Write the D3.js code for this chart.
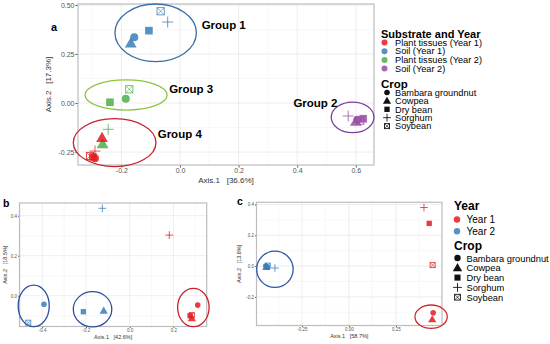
<!DOCTYPE html>
<html>
<head>
<meta charset="utf-8">
<script src="https://cdn.jsdelivr.net/npm/d3@7"></script>
<style>
  body { margin: 0; background: #fff; }
  text { font-family: "Liberation Sans", Arial, sans-serif; }
</style>
</head>
<body>
<div id="chart"></div>
<script>
// ---- data (order of points follows crops) ----
var crops = ["Bambara groundnut", "Cowpea", "Dry bean", "Sorghum", "Soybean"];
var substrates = ["Plant tissues (Year 1)", "Soil (Year 1)", "Plant tissues (Year 2)", "Soil (Year 2)"];
var years = ["Year 1", "Year 2"];

// panel a
var aPlant1X = [-0.290, -0.266, -0.297, -0.290, -0.307];
var aPlant1Y = [-0.282, -0.177, -0.275, -0.245, -0.270];
var aSoil1X = [-0.156, -0.168, -0.106, -0.042, -0.066];
var aSoil1Y = [0.335, 0.305, 0.369, 0.413, 0.468];
var aPlant2X = [-0.185, -0.264, -0.239, -0.245, -0.173];
var aPlant2Y = [0.022, -0.209, 0.004, -0.134, 0.070];
var aSoil2X = [0.605, 0.600, 0.625, 0.574, 0.615];
var aSoil2Y = [-0.085, -0.095, -0.080, -0.066, -0.090];
var aXTicks = [-0.2, 0.0, 0.2, 0.4, 0.6];
var aYTicks = [-0.25, 0.00, 0.25, 0.50];
var aGroups = ["Group 1", "Group 2", "Group 3", "Group 4"];
// ellipse centre x, y, radius x, radius y (data units)
var aEllCx = [-0.083, 0.589, -0.184, -0.223];
var aEllCy = [0.358, -0.073, 0.041, -0.202];
var aEllRx = [0.139, 0.073, 0.140, 0.141];
var aEllRy = [0.147, 0.078, 0.077, 0.122];
var aLabX = [0.074, 0.387, -0.037, -0.076];
var aLabY = [0.376, -0.019, 0.053, -0.177];

// panel b
var bYear1X = [0.311, 0.284, 0.276, 0.181, 0.284];
var bYear1Y = [-0.047, -0.113, -0.100, 0.303, -0.097];
var bYear2X = [-0.392, -0.119, -0.212, -0.125, -0.464];
var bYear2Y = [-0.043, -0.075, -0.080, 0.437, -0.135];
var bXTicks = [-0.4, -0.2, 0.0, 0.2];
var bYTicks = [0.0, 0.2, 0.4];
var bEllCx = [-0.439, -0.170, 0.291];
var bEllCy = [-0.051, -0.068, -0.059];
var bEllRx = [0.071, 0.088, 0.072];
var bEllRy = [0.104, 0.088, 0.096];

// panel c
var cYear1X = [0.448, 0.443, 0.427, 0.399, 0.445];
var cYear1Y = [-0.303, -0.346, 0.277, 0.380, 0.006];
var cYear2X = [-0.443, -0.440, -0.435, -0.394, -0.432];
var cYear2Y = [0.000, -0.006, -0.008, -0.013, 0.003];
var cXTicks = [-0.25, 0.00, 0.25];
var cYTicks = [-0.2, 0.0, 0.2, 0.4];
var cEllCx = [-0.394, 0.437];
var cEllCy = [-0.021, -0.329];
var cEllRx = [0.097, 0.086];
var cEllRy = [0.118, 0.076];

var red = "#e41a1c", blue = "#377eb8", green = "#4daf4a", purple = "#984ea3";

var svg = d3.select("#chart").append("svg")
  .attr("width", 550).attr("height", 344);

// draw one crop shape, s = size factor
function shape(g, crop, cx, cy, s, color, op) {
  var i = crops.indexOf(crop);
  var p = g.append("g").attr("transform", "translate(" + cx + "," + cy + ")");
  if (i == 0) {
    p.append("circle").attr("r", 4 * s).attr("fill", color).attr("fill-opacity", op);
  } else if (i == 1) {
    p.append("path").attr("d", d3.symbol(d3.symbolTriangle, 60 * s * s)()).attr("transform", "translate(0," + (0.8 * s) + ")")
      .attr("fill", color).attr("fill-opacity", op);
  } else if (i == 2) {
    p.append("rect").attr("x", -3.8 * s).attr("y", -3.8 * s).attr("width", 7.6 * s).attr("height", 7.6 * s)
      .attr("fill", color).attr("fill-opacity", op);
  } else if (i == 3) {
    var h = 5.5 * s;
    p.append("path").attr("d", "M" + (-h) + ",0H" + h + "M0," + (-h) + "V" + h)
      .attr("stroke", color).attr("stroke-opacity", op).attr("stroke-width", 0.9);
  } else {
    var q = 3.6 * s;
    p.append("rect").attr("x", -q).attr("y", -q).attr("width", 2 * q).attr("height", 2 * q)
      .attr("fill", "none").attr("stroke", color).attr("stroke-opacity", op).attr("stroke-width", 0.9);
    p.append("path").attr("d", "M" + (-q) + "," + (-q) + "L" + q + "," + q + "M" + q + "," + (-q) + "L" + (-q) + "," + q)
      .attr("stroke", color).attr("stroke-opacity", op).attr("stroke-width", 0.7);
  }
}

function fmt(n) { return function(d) { return d.toFixed(n); }; }

function midpoints(t) {
  var step = t[1] - t[0], out = [];
  for (var i = -1; i < t.length; i++) out.push(t[0] + step * (i + 0.5));
  return out;
}

function panel(o) {
  var x = d3.scaleLinear().domain(o.xDom).range([o.l, o.r]);
  var y = d3.scaleLinear().domain(o.yDom).range([o.b, o.t]);
  var g = svg.append("g");
  var xin = function(d) { return d > o.xDom[0] && d < o.xDom[1]; };
  var yin = function(d) { return d > o.yDom[0] && d < o.yDom[1]; };

  g.selectAll(".gxm").data(midpoints(o.xTicks).filter(xin)).join("line")
    .attr("x1", d => x(d)).attr("x2", d => x(d)).attr("y1", o.t).attr("y2", o.b)
    .attr("stroke", "#f3f3f3").attr("stroke-width", 0.6);
  g.selectAll(".gym").data(midpoints(o.yTicks).filter(yin)).join("line")
    .attr("y1", d => y(d)).attr("y2", d => y(d)).attr("x1", o.l).attr("x2", o.r)
    .attr("stroke", "#f3f3f3").attr("stroke-width", 0.6);
  g.selectAll(".gx").data(o.xTicks).join("line")
    .attr("x1", d => x(d)).attr("x2", d => x(d)).attr("y1", o.t).attr("y2", o.b)
    .attr("stroke", "#e8e8e8").attr("stroke-width", 0.8);
  g.selectAll(".gy").data(o.yTicks).join("line")
    .attr("y1", d => y(d)).attr("y2", d => y(d)).attr("x1", o.l).attr("x2", o.r)
    .attr("stroke", "#e8e8e8").attr("stroke-width", 0.8);

  var xa = g.append("g").attr("transform", "translate(0," + o.b + ")")
    .call(d3.axisBottom(x).tickValues(o.xTicks).tickFormat(fmt(o.xDec)).tickSize(o.tk).tickPadding(1));
  var ya = g.append("g").attr("transform", "translate(" + o.l + ",0)")
    .call(d3.axisLeft(y).tickValues(o.yTicks).tickFormat(fmt(o.yDec)).tickSize(o.tk).tickPadding(1));
  [xa, ya].forEach(function(a) {
    a.select(".domain").remove();
    a.selectAll("line").attr("stroke", "#555");
    a.selectAll("text").attr("fill", "#555").style("font-size", o.fs + "px")
      .style("font-family", "'Liberation Sans', Arial, sans-serif");
  });

  g.append("rect").attr("x", o.l).attr("y", o.t).attr("width", o.r - o.l).attr("height", o.b - o.t)
    .attr("fill", "none").attr("stroke", "#bdbdbd").attr("stroke-width", 1.2);

  g.append("text").attr("x", (o.l + o.r) / 2).attr("y", o.xTitleY).attr("text-anchor", "middle")
    .attr("fill", "#333").style("font-size", o.tfs + "px").text(o.xTitle).attr("xml:space", "preserve");
  g.append("text").attr("transform", "translate(" + o.yTitleX + "," + ((o.t + o.b) / 2) + ") rotate(-90)")
    .attr("text-anchor", "middle").attr("fill", "#333").style("font-size", o.tfs + "px")
    .attr("xml:space", "preserve").text(o.yTitle);
  g.append("text").attr("x", o.tagX).attr("y", o.tagY).style("font-size", o.tagFs + "px")
    .style("font-weight", "bold").text(o.tag);
  return { x: x, y: y, g: g };
}

function ellipses(p, cx, cy, rx, ry, colors) {
  p.g.selectAll(null).data(cx).join("ellipse")
    .attr("cx", d => p.x(d))
    .attr("cy", (d, i) => p.y(cy[i]))
    .attr("rx", (d, i) => Math.abs(p.x(rx[i]) - p.x(0)))
    .attr("ry", (d, i) => Math.abs(p.y(ry[i]) - p.y(0)))
    .attr("fill", "none").attr("stroke", (d, i) => colors[i]).attr("stroke-width", 1.3);
}

function points(p, xs, ys, color, s) {
  xs.forEach(function(v, i) {
    shape(p.g, crops[i], p.x(v), p.y(ys[i]), s, color, 0.85);
  });
}

// ---- panel a ----
var pa = panel({
  l: 78, r: 374, t: 4, b: 165,
  xDom: [-0.348, 0.662], yDom: [-0.316, 0.505],
  xTicks: aXTicks, yTicks: aYTicks, xDec: 1, yDec: 2,
  tk: 2.5, fs: 7, tfs: 8,
  xTitle: "Axis.1   [36.6%]", yTitle: "Axis.2   [17.3%]", xTitleY: 182.5, yTitleX: 51,
  tag: "a", tagX: 51, tagY: 31, tagFs: 11
});
ellipses(pa, aEllCx, aEllCy, aEllRx, aEllRy, ["#3b6ea8", "#7d3f9e", "#8cc63f", "#c8202a"]);
points(pa, aSoil2X, aSoil2Y, purple, 1);
points(pa, aPlant2X, aPlant2Y, green, 1);
points(pa, aPlant1X, aPlant1Y, red, 1);
points(pa, aSoil1X, aSoil1Y, blue, 1);
pa.g.selectAll(".glab").data(aGroups).join("text")
  .attr("x", (d, i) => pa.x(aLabX[i])).attr("y", (d, i) => pa.y(aLabY[i]))
  .style("font-size", "11.5px").style("font-weight", "bold").text(d => d);

// legend a
var la = svg.append("g");
la.append("text").attr("x", 381).attr("y", 37.5).style("font-size", "11px").style("font-weight", "bold").text("Substrate and Year");
la.selectAll(".s").data(substrates).join("g").each(function(d, i) {
  var c = [red, blue, green, purple][i];
  var yy = 42.5 + i * 8.7;
  d3.select(this).append("circle").attr("cx", 384.5).attr("cy", yy).attr("r", 3).attr("fill", c).attr("fill-opacity", 0.85);
  d3.select(this).append("text").attr("x", 395).attr("y", yy + 3.2).style("font-size", "9.2px").text(d);
});
la.append("text").attr("x", 381).attr("y", 87.5).style("font-size", "11.5px").style("font-weight", "bold").text("Crop");
la.selectAll(".c").data(crops).join("g").each(function(d, i) {
  var yy = 92.5 + i * 8.4;
  shape(d3.select(this), d, 387, yy, 0.7, "#111", 1);
  d3.select(this).append("text").attr("x", 395).attr("y", yy + 3.2).style("font-size", "9.2px").text(d);
});

// ---- panel b ----
var pb = panel({
  l: 19.5, r: 206.7, t: 203, b: 326.5,
  xDom: [-0.504, 0.352], yDom: [-0.154, 0.4635],
  xTicks: bXTicks, yTicks: bYTicks, xDec: 1, yDec: 1,
  tk: 1.5, fs: 4.5, tfs: 5.5,
  xTitle: "Axis.1   [42.6%]", yTitle: "Axis.2   [18.5%]", xTitleY: 339, yTitleX: 7,
  tag: "b", tagX: 3, tagY: 206.5, tagFs: 10.5
});
ellipses(pb, bEllCx, bEllCy, bEllRx, bEllRy, ["#2c4f9e", "#2c4f9e", "#cc1f2b"]);
points(pb, bYear2X, bYear2Y, blue, 0.7);
points(pb, bYear1X, bYear1Y, red, 0.7);

// ---- panel c ----
var pc = panel({
  l: 256.5, r: 442, t: 202.3, b: 325.5,
  xDom: [-0.492, 0.495], yDom: [-0.386, 0.414],
  xTicks: cXTicks, yTicks: cYTicks, xDec: 2, yDec: 1,
  tk: 1.5, fs: 4.5, tfs: 5.5,
  xTitle: "Axis.1   [58.7%]", yTitle: "Axis.2   [13.8%]", xTitleY: 338, yTitleX: 241,
  tag: "c", tagX: 237, tagY: 205, tagFs: 10.5
});
ellipses(pc, cEllCx, cEllCy, cEllRx, cEllRy, ["#2c5aa8", "#cc2a2a"]);
points(pc, cYear2X, cYear2Y, blue, 0.7);
points(pc, cYear1X, cYear1Y, red, 0.7);

// legend c
var lc = svg.append("g");
lc.append("text").attr("x", 454).attr("y", 210).style("font-size", "12px").style("font-weight", "bold").text("Year");
lc.selectAll(".y").data(years).join("g").each(function(d, i) {
  var c = [red, blue][i];
  var yy = 219.5 + i * 11.7;
  d3.select(this).append("circle").attr("cx", 457).attr("cy", yy).attr("r", 3.2).attr("fill", c).attr("fill-opacity", 0.85);
  d3.select(this).append("text").attr("x", 466.5).attr("y", yy + 3.5).style("font-size", "10px").text(d);
});
lc.append("text").attr("x", 454).attr("y", 249.5).style("font-size", "12px").style("font-weight", "bold").text("Crop");
lc.selectAll(".c").data(crops).join("g").each(function(d, i) {
  var yy = 258 + i * 9.8;
  shape(d3.select(this), d, 457.5, yy, 0.8, "#111", 1);
  d3.select(this).append("text").attr("x", 466.5).attr("y", yy + 3.5).style("font-size", "9.3px").text(d);
});
</script>
</body>
</html>
